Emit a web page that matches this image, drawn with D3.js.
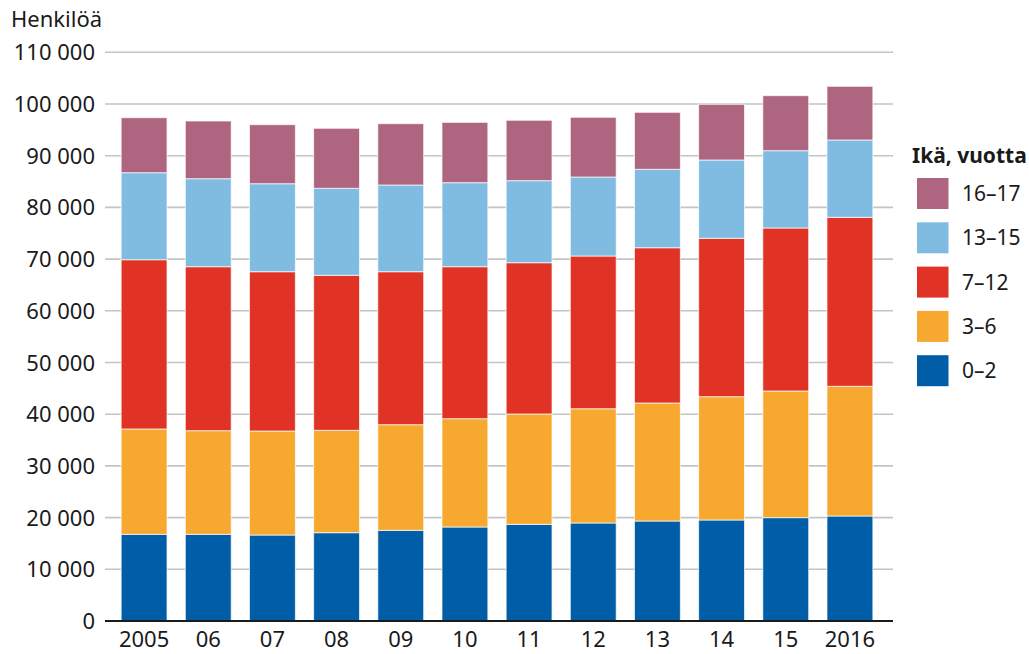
<!DOCTYPE html>
<html>
<head>
<meta charset="utf-8">
<script src="https://cdn.jsdelivr.net/npm/d3@7"></script>
<style>
  html, body { margin: 0; padding: 0; background: #fff; }
  svg { display: block; font-family: "Noto Sans", "Open Sans", sans-serif; }
</style>
</head>
<body>
<div id="chart"></div>
<script>
(function () {
  "use strict";

  const years = ["2005", "06", "07", "08", "09", "10", "11", "12", "13", "14", "15", "2016"];
  const ageGroups = ["0–2", "3–6", "7–12", "13–15", "16–17"];
  const colors = ["#005ea9", "#f6a82f", "#e03326", "#80bce2", "#ae6580"];

  const age0to2 = [16770, 16770, 16630, 17080, 17540, 18180, 18700, 18960, 19340, 19540, 19990, 20310];
  const age3to6 = [20370, 20040, 20120, 19800, 20430, 20950, 21340, 22100, 22830, 23850, 24500, 25090];
  const age7to12 = [32740, 31720, 30810, 29990, 29590, 29400, 29260, 29540, 30030, 30630, 31530, 32680];
  const age13to15 = [16830, 17020, 17020, 16820, 16770, 16250, 15870, 15280, 15170, 15150, 14950, 14960];
  const age16to17 = [10640, 11160, 11420, 11610, 11860, 11670, 11680, 11550, 11020, 10770, 10640, 10380];

  const yTicks = [0, 10000, 20000, 30000, 40000, 50000, 60000, 70000, 80000, 90000, 100000, 110000];

  const series = [age0to2, age3to6, age7to12, age13to15, age16to17];
  const rows = years.map((year, i) => {
    const row = { year };
    ageGroups.forEach((g, k) => { row[g] = series[k][i]; });
    return row;
  });

  const width = 1029;
  const height = 654;
  const gridLeft = 105;
  const gridRight = 893;
  const axisFont = 22;
  const legendFont = 21;

  const svg = d3.select("#chart")
    .append("svg")
    .attr("width", width)
    .attr("height", height);

  const x = d3.scaleBand()
    .domain(years)
    .range([112, 882])
    .paddingInner(0.285)
    .paddingOuter(0.1425);

  const y = d3.scaleLinear()
    .domain([0, 110000])
    .range([621, 52.3]);

  const fmt = (v) => d3.format(",")(v).replace(/,/g, " ");

  // gridlines
  svg.append("g")
    .selectAll("line")
    .data(yTicks.filter((t) => t > 0))
    .join("line")
    .attr("x1", gridLeft)
    .attr("x2", gridRight)
    .attr("y1", (d) => y(d))
    .attr("y2", (d) => y(d))
    .attr("stroke", "#c4c4c4")
    .attr("stroke-width", 1.6);

  // y labels
  svg.append("g")
    .selectAll("text")
    .data(yTicks)
    .join("text")
    .attr("x", 95)
    .attr("y", (d) => y(d) + 8)
    .attr("text-anchor", "end")
    .attr("font-size", axisFont)
    .attr("fill", "#1a1a1a")
    .text(fmt);

  svg.append("text")
    .attr("x", 11)
    .attr("y", 27)
    .attr("font-size", axisFont)
    .attr("fill", "#1a1a1a")
    .text("Henkilöä");

  // stacked bars
  const stack = d3.stack().keys(ageGroups)(rows);

  svg.append("g")
    .selectAll("g")
    .data(stack)
    .join("g")
    .attr("fill", (d, i) => colors[i])
    .selectAll("rect")
    .data((d) => d)
    .join("rect")
    .attr("x", (d) => x(d.data.year))
    .attr("width", x.bandwidth())
    .attr("y", (d) => y(d[1]))
    .attr("height", (d) => y(d[0]) - y(d[1]))
    .attr("stroke", "#ffffff")
    .attr("stroke-opacity", 0.7)
    .attr("stroke-width", 1);

  // baseline
  svg.append("line")
    .attr("x1", gridLeft)
    .attr("x2", gridRight)
    .attr("y1", y(0))
    .attr("y2", y(0))
    .attr("stroke", "#1a1a1a")
    .attr("stroke-width", 2);

  // x labels
  svg.append("g")
    .selectAll("text")
    .data(years)
    .join("text")
    .attr("x", (d) => x(d) + x.bandwidth() / 2)
    .attr("y", 647)
    .attr("text-anchor", "middle")
    .attr("font-size", axisFont)
    .attr("fill", "#1a1a1a")
    .text((d) => d);

  // legend
  const legend = svg.append("g");
  legend.append("text")
    .attr("x", 912)
    .attr("y", 163)
    .attr("font-size", legendFont)
    .attr("font-weight", "bold")
    .attr("fill", "#1a1a1a")
    .text("Ikä, vuotta");

  const legendOrder = ageGroups.map((g, i) => ({ g, c: colors[i] })).reverse();
  const items = legend.selectAll("g.item")
    .data(legendOrder)
    .join("g")
    .attr("class", "item")
    .attr("transform", (d, i) => `translate(917, ${178 + i * 44.3})`);

  items.append("rect")
    .attr("width", 31.5)
    .attr("height", 31)
    .attr("fill", (d) => d.c);

  items.append("text")
    .attr("x", 45)
    .attr("y", 23)
    .attr("font-size", legendFont)
    .attr("fill", "#1a1a1a")
    .text((d) => d.g);
})();
</script>
</body>
</html>
